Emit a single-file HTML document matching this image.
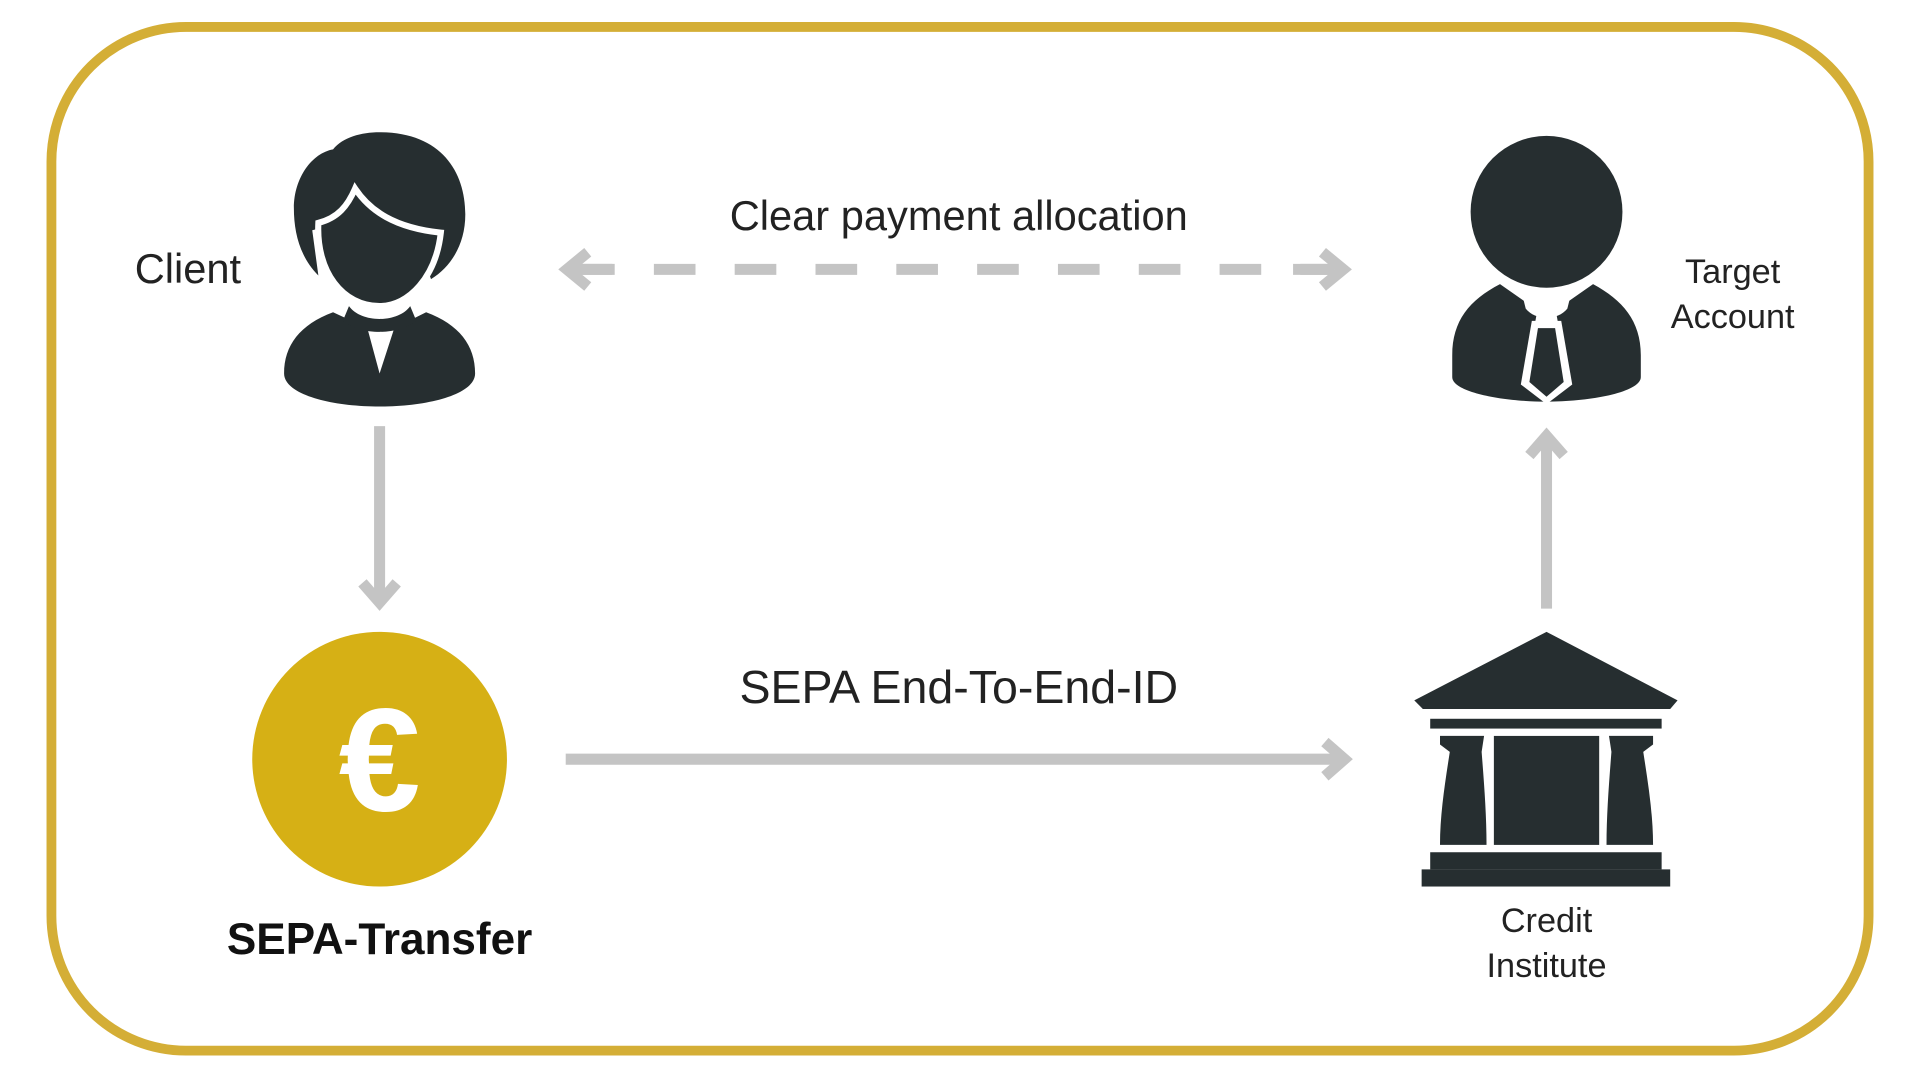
<!DOCTYPE html>
<html><head><meta charset="utf-8"><style>
html,body{margin:0;padding:0;background:#fff;width:1920px;height:1080px;overflow:hidden}
svg{display:block}
text{font-family:"Liberation Sans",sans-serif}
</style></head><body>
<svg width="1920" height="1080" viewBox="0 0 1568 882" xmlns="http://www.w3.org/2000/svg">
<rect x="42" y="22" width="1484" height="836" rx="110" ry="110" fill="#fff" stroke="#d4ae36" stroke-width="8"/>
<!-- Client -->
<text x="110" y="231" font-size="34" fill="#222" font-weight="300">Client</text>
<g fill="#262e30">
<path d="M310 108 C360 108 380 140 380 175 C380 200 368 218 352 228 L340 195 C320 188 300 175 290 155 C280 175 270 185 255 188 L260 225 C245 210 240 190 240 170 C240 145 255 125 272 122 C280 112 295 108 310 108Z"/>
<path d="M260 182 C276 178 284 168 290 154 C302 172 322 186 360 190 C356 226 334 250 310 250 C280 250 258 222 260 182Z" stroke="#fff" stroke-width="5"/>
<path d="M272 255 L300 268 L310 305 L322 268 L348 255 C375 265 388 282 388 305 C388 322 350 332 310 332 C270 332 232 322 232 305 C232 282 245 265 272 255Z"/>
<path d="M285 250 C295 264 325 264 335 250 L340 262 C325 274 295 274 280 262Z"/>
</g>
<!-- dashed -->
<line x1="470" y1="220" x2="1088" y2="220" stroke="#c4c4c4" stroke-width="9" stroke-dasharray="34,32" stroke-dashoffset="-64"/>
<line x1="470" y1="220" x2="500" y2="220" stroke="#c4c4c4" stroke-width="9"/>
<line x1="1056" y1="220" x2="1090" y2="220" stroke="#c4c4c4" stroke-width="9"/>
<polyline points="480,206 463,220 480,234" fill="none" stroke="#c4c4c4" stroke-width="9"/>
<polyline points="1080,206 1097,220 1080,234" fill="none" stroke="#c4c4c4" stroke-width="9"/>
<text x="783" y="188" font-size="34" fill="#222" text-anchor="middle" font-weight="300">Clear payment allocation</text>
<!-- Target -->
<g fill="#262e30">
<circle cx="1263" cy="173" r="62"/>
<path d="M1225 232 L1245 246 L1255 256 L1245 312 L1263 328 L1281 312 L1271 256 L1281 246 L1301 232 C1325 245 1340 262 1340 290 L1340 308 C1340 320 1300 328 1263 328 C1226 328 1186 320 1186 308 L1186 290 C1186 262 1200 245 1225 232Z"/>
<path d="M1251 262 L1275 262 L1284 314 L1263 330 L1242 314Z" fill="#fff"/>
<path d="M1256 268 L1270 268 L1277 312 L1263 324 L1249 312Z"/>
<path d="M1243 240 C1250 248 1276 248 1283 240 L1280 252 C1272 262 1254 262 1246 252Z" fill="#fff"/>
</g>
<text x="1415" y="231" font-size="28" fill="#222" text-anchor="middle" font-weight="300">Target</text>
<text x="1415" y="268" font-size="28" fill="#222" text-anchor="middle" font-weight="300">Account</text>
<!-- down arrow -->
<line x1="310" y1="348" x2="310" y2="490" stroke="#c4c4c4" stroke-width="9"/>
<polyline points="296,476 310,492 324,476" fill="none" stroke="#c4c4c4" stroke-width="9"/>
<!-- coin -->
<circle cx="310" cy="620" r="104" fill="#d6b015"/>
<text x="310" y="662" font-size="120" fill="#fff" font-weight="bold" text-anchor="middle">€</text>
<text x="310" y="779" font-size="36" fill="#111" text-anchor="middle" font-weight="bold">SEPA-Transfer</text>
<!-- horizontal arrow -->
<line x1="462" y1="620" x2="1098" y2="620" stroke="#c4c4c4" stroke-width="9"/>
<polyline points="1082,606 1098,620 1082,634" fill="none" stroke="#c4c4c4" stroke-width="9"/>
<text x="783" y="574" font-size="38" fill="#222" text-anchor="middle" font-weight="300">SEPA End-To-End-ID</text>
<!-- up arrow -->
<line x1="1263" y1="497" x2="1263" y2="356" stroke="#c4c4c4" stroke-width="9"/>
<polyline points="1249,372 1263,356 1277,372" fill="none" stroke="#c4c4c4" stroke-width="9"/>
<!-- bank -->
<g fill="#262e30">
<path d="M1263 516 L1370 572 L1364 579 L1162 579 L1155 572Z"/>
<rect x="1168" y="587" width="189" height="8"/>
<path d="M1176 601 L1212 601 L1210 614 C1212 640 1214 665 1214 690 L1176 690 C1176 665 1180 640 1184 614 L1176 608Z"/>
<path d="M1350 601 L1314 601 L1316 614 C1314 640 1312 665 1312 690 L1350 690 C1350 665 1346 640 1342 614 L1350 608Z"/>
<rect x="1220" y="601" width="86" height="89"/>
<rect x="1168" y="696" width="189" height="14"/>
<rect x="1161" y="710" width="203" height="14"/>
</g>
<text x="1263" y="761" font-size="28" fill="#222" text-anchor="middle" font-weight="300">Credit</text>
<text x="1263" y="798" font-size="28" fill="#222" text-anchor="middle" font-weight="300">Institute</text>
</svg>
</body></html>
